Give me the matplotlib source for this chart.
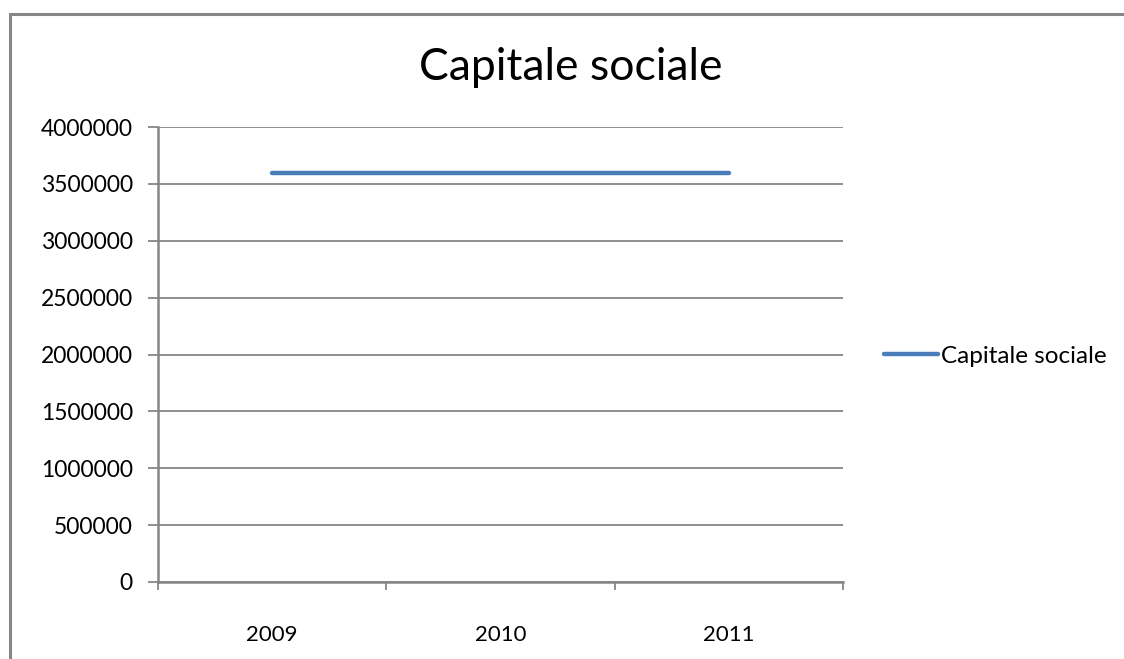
import matplotlib.pyplot as plt
from matplotlib.patches import Rectangle

# data
years = ["2009", "2010", "2011"]
capitale = [3600000, 3600000, 3600000]
y_ticks = [0, 500000, 1000000, 1500000, 2000000, 2500000, 3000000, 3500000, 4000000]

plt.rcParams['font.family'] = ['Lato', 'DejaVu Sans']
GRAY = "#868686"
BLUE = "#4A7EBB"

W, H = 1124, 659
fig = plt.figure(figsize=(W / 100, H / 100), dpi=100)
fig.patch.set_facecolor("white")

# outer chart border (runs off the right/bottom edge like the screenshot)
fig.patches.append(Rectangle((10 / W, -0.05), 1.1, (H - 14) / H + 0.05,
                             transform=fig.transFigure, fill=False,
                             edgecolor=GRAY, lw=2.2))

ax = fig.add_axes([158 / W, (H - 582) / H, 685 / W, 455 / H])
x = list(range(len(years)))
ax.plot(x, capitale, color=BLUE, lw=3.2, solid_capstyle="round",
        label="Capitale sociale")

ax.set_xlim(-0.5, len(years) - 0.5)
ax.set_ylim(0, 4000000)
ax.set_yticks(y_ticks)
ax.set_yticklabels([str(v) for v in y_ticks])
ax.yaxis.grid(True, color=GRAY, lw=1.3)
ax.set_axisbelow(True)

# category labels at centres, tick marks between categories
ax.set_xticks(x)
ax.set_xticklabels(years)
ax.set_xticks([i - 0.5 for i in range(len(years) + 1)], minor=True)
ax.tick_params(axis="x", which="major", length=0, pad=31, labelsize=16)
ax.tick_params(axis="x", which="minor", length=6, width=1.3, color=GRAY,
               direction="out")
ax.tick_params(axis="y", length=7, width=1.3, color=GRAY, pad=11,
               labelsize=16.5)

for s in ["top", "right"]:
    ax.spines[s].set_visible(False)
for s in ["left", "bottom"]:
    ax.spines[s].set_color(GRAY)
    ax.spines[s].set_linewidth(1.8)

fig.text(571 / W, 1 - 68 / H, "Capitale sociale", ha="center", va="center",
         fontsize=32)

ax.legend(loc="center left", bbox_to_anchor=(872 / W, 1 - 356 / H),
          bbox_transform=fig.transFigure, frameon=False, fontsize=17.5,
          handlelength=2.2, handletextpad=0.12, borderpad=0)

fig.savefig("out.png", dpi=100)
